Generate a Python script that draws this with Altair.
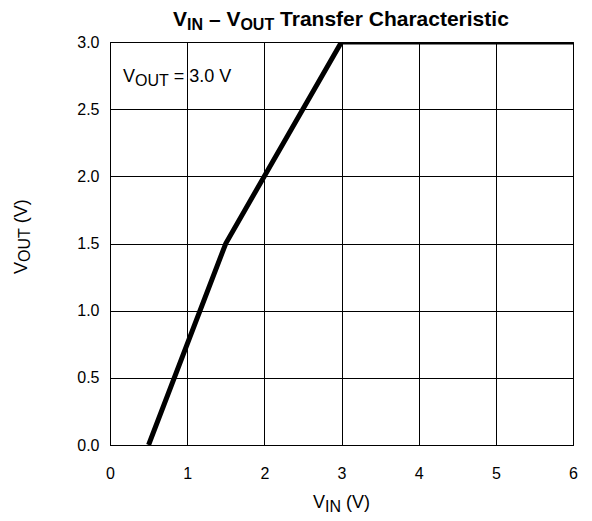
import altair as alt
import pandas as pd

# ---- data ----
vin = [0.5, 1.5, 3.0, 6.0]
vout = [0.0, 1.5, 3.0, 3.0]
x_ticks = [0, 1, 2, 3, 4, 5, 6]
y_ticks = [0.0, 0.5, 1.0, 1.5, 2.0, 2.5, 3.0]

# rich-text pieces: (text, is_subscript)
title_parts = [("V", False), ("IN", True), (" – V", False), ("OUT", True), (" Transfer Characteristic", False)]
xtitle_parts = [("V", False), ("IN", True), (" (V)", False)]
ytitle_parts = [("V", False), ("OUT", True), (" (V)", False)]
note_parts = [("V", False), ("OUT", True), (" = 3.0 V", False)]

W, H = 463, 403
FONT = "Liberation Sans"

REG = {" ": 278, "(": 333, ")": 333, "=": 584, ".": 278, "V": 667, "I": 278, "N": 722,
       "O": 778, "U": 722, "T": 611, "–": 556}
for d in "0123456789":
    REG[d] = 556
BOLD = {" ": 278, "–": 556, "V": 667, "I": 278, "N": 722, "O": 778, "U": 722, "T": 611,
        "r": 389, "a": 556, "n": 611, "s": 556, "f": 333, "e": 556, "C": 722, "h": 611,
        "c": 556, "t": 333, "i": 278}


def text_width(s, size, bold):
    table = BOLD if bold else REG
    return sum(table.get(ch, 556) for ch in s) * size / 1000.0


def rich(parts, x0, y0, main, sub, bold=False, angle=0, center=False, shift=4, halo=False):
    total = sum(text_width(t, sub if s else main, bold) for t, s in parts)
    start = -total / 2 if center else 0
    layers = []
    off = start
    for t, is_sub in parts:
        size = sub if is_sub else main
        stripped = t.lstrip(" ")
        lead = len(t) - len(stripped)
        off += text_width(" " * lead, size, bold)
        if angle == 0:
            px, py = x0 + off, y0 + (shift if is_sub else 0)
        else:
            px, py = x0 + (shift if is_sub else 0), y0 - off
        base = alt.Chart(pd.DataFrame({"t": [stripped]}))
        style = dict(align="left", baseline="alphabetic", font=FONT, fontSize=size,
                     fontWeight="bold" if bold else "normal", angle=angle)
        if halo:
            layers.append(
                base.mark_text(color="white", stroke="white", strokeWidth=3, **style)
                .encode(text="t:N", x=alt.value(px), y=alt.value(py))
            )
        layers.append(
            base.mark_text(color="black", **style)
            .encode(text="t:N", x=alt.value(px), y=alt.value(py))
        )
        off += text_width(stripped, size, bold)
    return layers


df = pd.DataFrame({"vin": vin, "vout": vout})

line = alt.Chart(df).mark_line(color="black", strokeWidth=5, clip=True).encode(
    x=alt.X("vin:Q", scale=alt.Scale(domain=[0, 6], nice=False),
            axis=alt.Axis(values=x_ticks, title=None, format="d", grid=True,
                          gridColor="black", gridWidth=1, gridOpacity=1, tickSize=0,
                          labelPadding=20, labelFontSize=16, labelFont=FONT,
                          labelColor="black", domainColor="black", labelFlush=False,
                          labelOverlap=False)),
    y=alt.Y("vout:Q", scale=alt.Scale(domain=[0, 3], nice=False),
            axis=alt.Axis(values=y_ticks, title=None, format=".1f", grid=True,
                          gridColor="black", gridWidth=1, gridOpacity=1, tickSize=0,
                          labelPadding=11, labelFontSize=16, labelFont=FONT,
                          labelColor="black", domainColor="black", labelFlush=False,
                          labelOverlap=False)),
    order=alt.Order("vin:Q"),
)

layers = [line]
layers += rich(title_parts, W / 2, -16, 21, 16, bold=True, center=True, shift=4)
layers += rich(xtitle_parts, W / 2, 466, 18, 16, center=True, shift=4)
layers += rich(ytitle_parts, -83, 232, 18, 16, angle=270, shift=3)
layers += rich(note_parts, 13, 40, 18, 16, shift=4, halo=True)

chart = alt.layer(*layers).properties(
    width=W, height=H,
    autosize=alt.AutoSizeParams(type="none"),
    padding={"left": 102, "top": 34, "right": 11, "bottom": 72},
    background="white",
).configure_view(stroke="black", strokeWidth=1)

chart.save("out.html", embed_options={"renderer": "svg", "actions": False})
